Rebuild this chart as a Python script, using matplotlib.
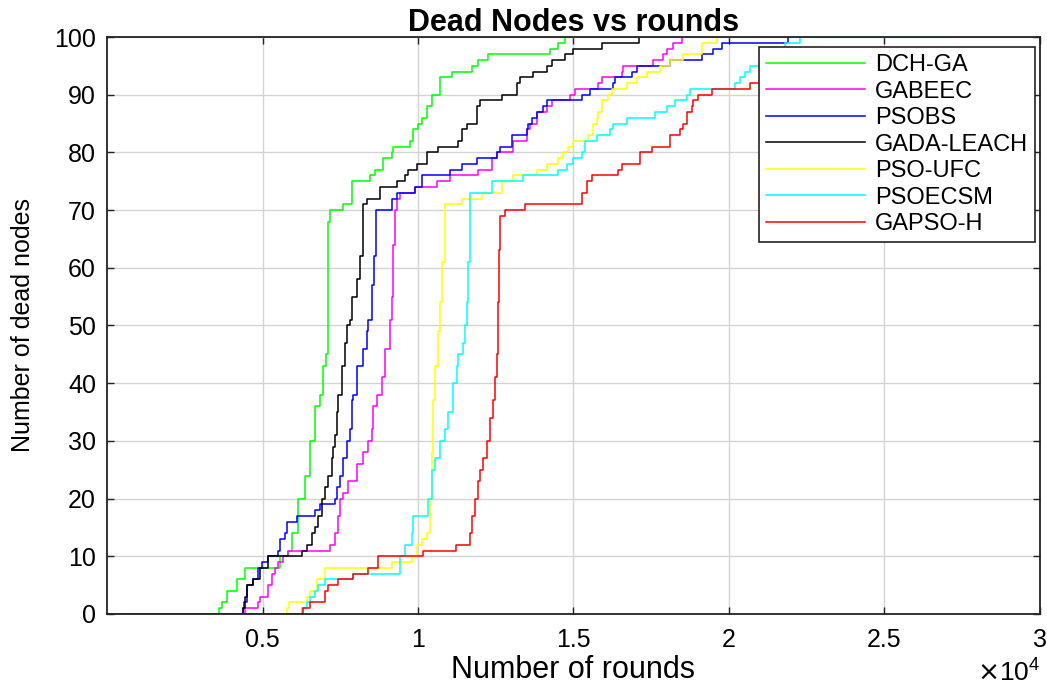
import matplotlib
matplotlib.use("Agg")
import matplotlib.pyplot as plt

plt.rcParams['font.family'] = ['Liberation Sans', 'DejaVu Sans']

# dead-node counts (step curves): round at which the count changes, new count
dch_ga_rounds = [0, 3600, 3700, 3860, 4180, 4440, 5560, 5820, 5950, 6140, 6370, 6530, 6690, 6850,
                 6950, 7040, 7100, 7170, 7590, 7880, 8460, 8620, 8870, 9160, 9200, 9740, 9840,
                 10000, 10130, 10290, 10450, 10710, 11090, 11740, 11930, 12250, 14240, 14500, 14730]
dch_ga_dead = [0, 1, 2, 4, 6, 8, 10, 11, 14, 20, 24, 30, 36, 38,
               43, 45, 68, 70, 71, 75, 76, 77, 79, 80, 81, 82, 84,
               85, 86, 88, 90, 93, 94, 95, 96, 97, 98, 99, 100]

gabeec_rounds = [0, 4440, 4860, 4920, 5180, 5300, 5400, 5500, 5660, 5820, 7170, 7330, 7430, 7490,
                 7590, 7750, 8040, 8230, 8390, 8520, 8550, 8680, 8840, 8940, 9100, 9160, 9200,
                 9260, 9320, 9420, 9900, 10610, 11030, 11930, 12380, 12540, 13050, 13500, 13600,
                 13830, 14150, 14310, 14890, 15050, 15790, 15920, 16560, 16590, 17560, 17880,
                 18010, 18200, 18490]
gabeec_dead = [0, 1, 2, 3, 5, 7, 8, 9, 10, 11, 12, 14, 17, 20,
               21, 23, 26, 28, 30, 32, 36, 38, 41, 46, 51, 55, 64,
               70, 72, 73, 74, 75, 76, 77, 79, 80, 82, 84, 85,
               87, 88, 89, 90, 91, 92, 93, 94, 95, 96, 97,
               98, 99, 100]

psobs_rounds = [0, 4370, 4400, 4500, 4690, 4860, 4980, 5180, 5500, 5560, 5720, 5790, 6110, 6690,
                6850, 7330, 7400, 7490, 7590, 7720, 7810, 7880, 7910, 8040, 8230, 8360, 8390,
                8520, 8590, 8650, 9160, 9320, 9900, 10130, 11030, 11420, 11900, 12540, 12640,
                13020, 13500, 13540, 13670, 13830, 14020, 14150, 15270, 15530, 16270, 16330,
                16880, 17040, 18100, 19130, 19490, 19780, 21900]
psobs_dead = [0, 1, 2, 5, 6, 8, 9, 10, 11, 13, 14, 16, 17, 18,
              19, 20, 22, 24, 27, 30, 32, 37, 38, 43, 46, 49, 51,
              57, 62, 70, 72, 73, 74, 76, 77, 78, 79, 80, 81,
              83, 84, 85, 86, 87, 88, 89, 90, 91, 92, 93,
              94, 95, 96, 97, 98, 99, 100]

gada_leach_rounds = [0, 4370, 4440, 4500, 4690, 4920, 5180, 6270, 6430, 6590, 6690, 6780, 6910,
                     7010, 7110, 7240, 7270, 7330, 7400, 7430, 7560, 7650, 7720, 7810, 7880, 8040,
                     8140, 8230, 8360, 8780, 9330, 9580, 9680, 9970, 10290, 10640, 11290, 11420,
                     11580, 11900, 11990, 12700, 13180, 13280, 13700, 14150, 14310, 14730, 14980,
                     15920, 17110]
gada_leach_dead = [0, 1, 3, 5, 6, 8, 10, 11, 12, 14, 15, 17, 20,
                   22, 24, 27, 29, 31, 35, 38, 43, 47, 50, 51, 55, 58,
                   62, 71, 72, 74, 75, 76, 77, 78, 80, 81, 82, 84,
                   85, 88, 89, 90, 92, 93, 94, 95, 96, 97, 98,
                   99, 100]

pso_ufc_rounds = [0, 5800, 5850, 6430, 6530, 6750, 7010, 9160, 9810, 9970, 10130, 10290, 10390,
                  10450, 10480, 10550, 10640, 10710, 10770, 10870, 11420, 12060, 12700, 13050,
                  13830, 14150, 14500, 14660, 14820, 14980, 15470, 15630, 15760, 15790, 15920,
                  16110, 16240, 16720, 17040, 17360, 17780, 18100, 18520, 19130, 19610]
pso_ufc_dead = [0, 1, 2, 3, 4, 6, 8, 9, 10, 12, 13, 14, 20,
                28, 37, 43, 49, 54, 61, 71, 72, 73, 75, 76,
                77, 78, 79, 80, 81, 82, 83, 85, 86, 87, 89,
                90, 91, 92, 93, 94, 95, 96, 97, 99, 100]

psoecsm_rounds = [0, 6270, 6430, 6530, 6690, 6780, 7010, 7910, 9420, 9580, 9810, 9840, 10320,
                  10450, 10550, 10710, 10870, 10960, 11130, 11250, 11290, 11450, 11510, 11580,
                  11610, 11670, 12380, 13380, 14500, 14790, 14980, 15270, 15370, 15760, 16170,
                  16270, 16720, 17620, 18010, 18260, 18650, 18750, 20190, 20350, 20510, 20680,
                  21000, 21250, 21580, 21800, 22280, 27200]
psoecsm_dead = [0, 1, 2, 3, 4, 5, 6, 7, 10, 12, 14, 17, 20,
                25, 27, 30, 32, 35, 40, 43, 45, 47, 50, 54,
                61, 73, 75, 76, 77, 78, 79, 80, 82, 83, 84,
                85, 86, 87, 88, 89, 90, 91, 92, 93, 94, 95,
                96, 97, 98, 99, 100, 100]

gapso_h_rounds = [0, 6300, 6530, 7010, 7110, 7430, 7910, 8390, 8710, 10160, 11220, 11670, 11740,
                  11830, 11930, 11990, 12090, 12220, 12320, 12410, 12480, 12540, 12570, 12600,
                  12640, 12800, 13440, 15270, 15430, 15600, 16430, 16560, 17140, 17520, 18100,
                  18420, 18520, 18650, 18810, 18840, 19000, 19450, 20680, 21500]
gapso_h_dead = [0, 1, 2, 4, 5, 6, 7, 8, 10, 11, 12, 14, 17,
                20, 23, 25, 27, 30, 34, 37, 41, 45, 54, 63,
                69, 70, 71, 73, 75, 76, 77, 78, 80, 81, 83,
                84, 85, 87, 88, 89, 90, 91, 92, 92]

series = [
    ('DCH-GA', dch_ga_rounds, dch_ga_dead, '#00ff00'),
    ('GABEEC', gabeec_rounds, gabeec_dead, '#ff00ff'),
    ('PSOBS', psobs_rounds, psobs_dead, '#0000ff'),
    ('GADA-LEACH', gada_leach_rounds, gada_leach_dead, '#000000'),
    ('PSO-UFC', pso_ufc_rounds, pso_ufc_dead, '#ffff00'),
    ('PSOECSM', psoecsm_rounds, psoecsm_dead, '#00ffff'),
    ('GAPSO-H', gapso_h_rounds, gapso_h_dead, '#ff0000'),
]

xtick_vals = [5000, 10000, 15000, 20000, 25000, 30000]
xtick_labels = ['0.5', '1', '1.5', '2', '2.5', '3']
ytick_vals = list(range(0, 101, 10))

fig = plt.figure(figsize=(10.47, 6.88), dpi=100)
ax = fig.add_axes([0.1022, 0.1076, 0.8911, 0.8386])

for name, xs, ys, col in series:
    ax.plot(xs, ys, drawstyle='steps-post', color=col, lw=1.1, label=name)

ax.set_xlim(0, 30000)
ax.set_ylim(0, 100)
ax.set_xticks(xtick_vals)
ax.set_xticklabels(xtick_labels)
ax.set_yticks(ytick_vals)
ax.grid(True, color='#d4d4d4', lw=1.0)
ax.set_axisbelow(True)
ax.tick_params(direction='in', top=True, right=True, length=5, width=1.0,
               labelsize=18, color='#222222')
ax.tick_params(axis='y', pad=8)
ax.tick_params(axis='x', pad=10)
for sp in ax.spines.values():
    sp.set_color('#222222')
    sp.set_linewidth(1.3)

ax.set_title('Dead Nodes vs rounds', fontsize=22, fontweight='bold', pad=4)
ax.set_xlabel('Number of rounds', fontsize=22, labelpad=2)
ax.set_ylabel('Number of dead nodes', fontsize=18)
ax.yaxis.set_label_coords(-0.077, 0.5)
ax.text(1.0, -0.078, r'$\times\mathregular{10^{4}}$', transform=ax.transAxes,
        ha='right', va='top', fontsize=19)

leg = ax.legend(loc='upper right', bbox_to_anchor=(0.9946, 0.9827), borderaxespad=0,
                fontsize=17, handlelength=4.2, handletextpad=0.4, labelspacing=0.19,
                borderpad=0.3, fancybox=False, framealpha=1, edgecolor='#222222')
leg.get_frame().set_linewidth(1.2)

fig.savefig('out.png', dpi=100)
